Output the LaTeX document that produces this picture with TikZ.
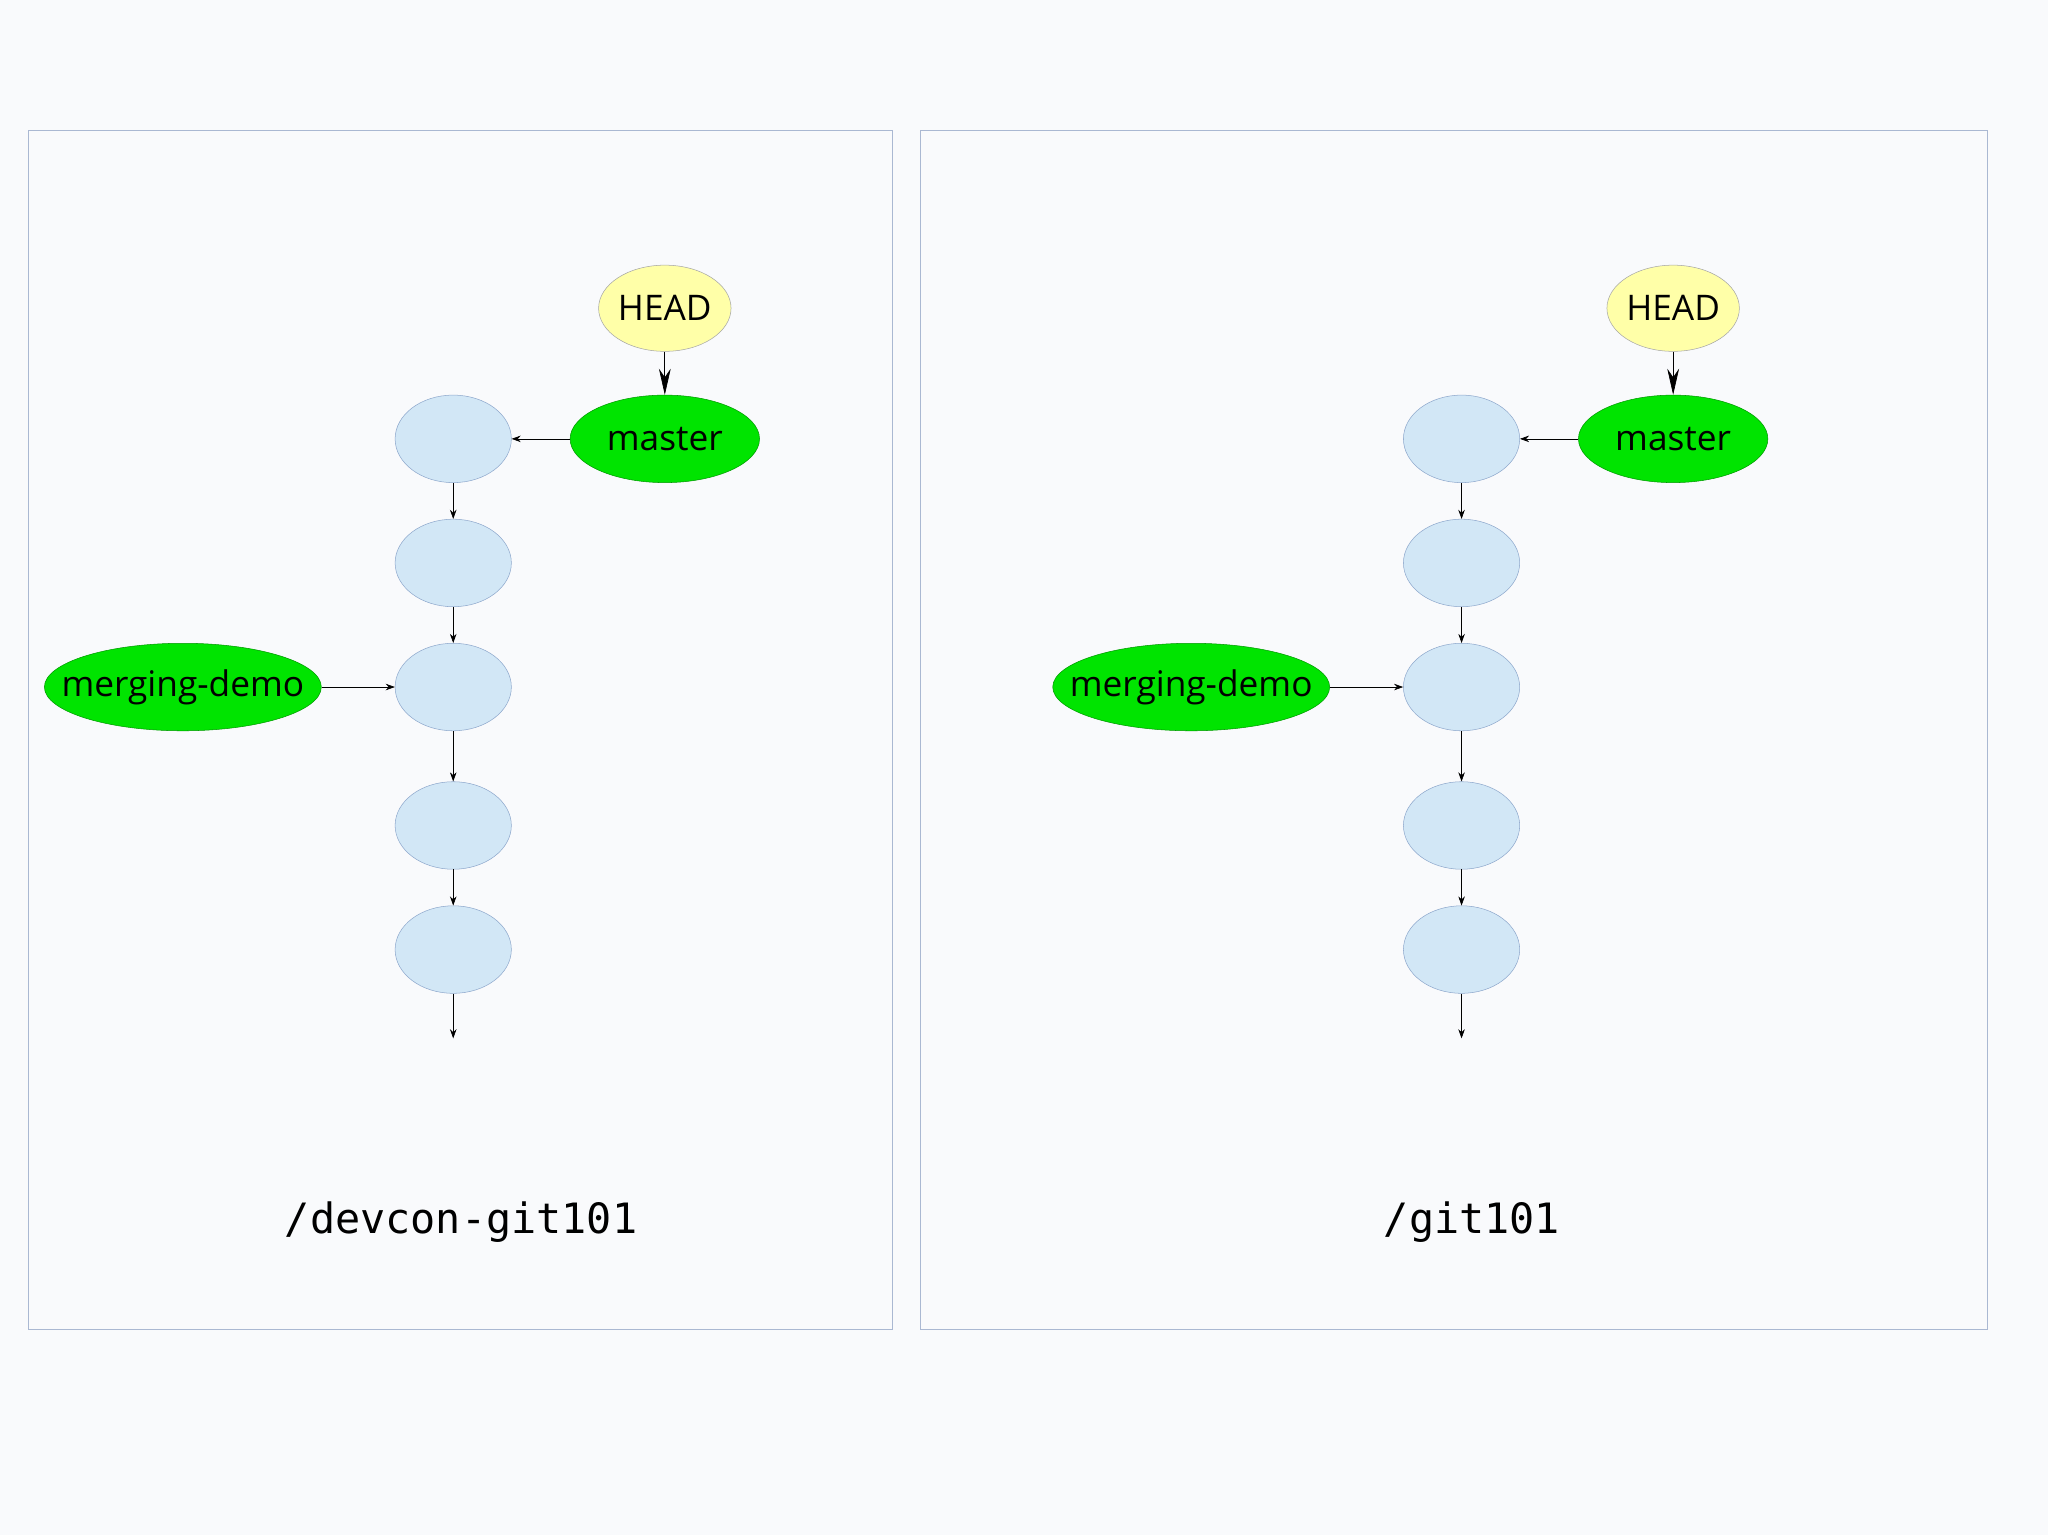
\documentclass[tikz,border=0pt]{standalone}
\usepackage{fontspec}
\setmainfont{Open Sans}
\newfontfamily\monof{DejaVu Sans Mono}
\usetikzlibrary{arrows.meta,shapes.geometric}
\definecolor{bg}{HTML}{F9FAFC}
\definecolor{pan}{HTML}{AAB8D2}
\definecolor{cfill}{HTML}{D2E7F6}
\definecolor{cline}{HTML}{8EA8CC}
\definecolor{grn}{HTML}{00E400}
\definecolor{yel}{HTML}{FFFFA8}
\tikzset{
 commit/.style={ellipse,draw=cline,fill=cfill,minimum width=89pt,minimum height=67pt,inner sep=0pt},
 branch/.style={ellipse,draw=green!60!black,fill=grn,minimum height=67pt,inner sep=0pt,font=\fontsize{27}{30}\selectfont},
 headn/.style={ellipse,draw=gray!70,fill=yel,minimum width=100pt,minimum height=66pt,inner sep=0pt,font=\fontsize{27}{30}\selectfont},
 conn/.style={-{Stealth[length=7pt,width=5pt]},black,line width=0.5pt},
 bigconn/.style={-{Stealth[length=20pt,width=9pt]},black,line width=0.5pt},
 panel/.style={draw=pan,line width=0.8pt},
 lbl/.style={font=\monof\fontsize{32}{36}\selectfont}
}
\begin{document}
\begin{tikzpicture}[x=1pt,y=-1pt]
\fill[bg] (0,0) rectangle (1568,1175);
\useasboundingbox (0,0) rectangle (1568,1175);
\draw[panel] (22,100) rectangle (683,1018);
\draw[panel] (705,100) rectangle (1522,1018);
\foreach \o/\p in {0/L,772/R}{
 \node[commit] (\p c1) at (347+\o,336) {};
 \node[commit] (\p c2) at (347+\o,431) {};
 \node[commit] (\p c3) at (347+\o,526) {};
 \node[commit] (\p c4) at (347+\o,632) {};
 \node[commit] (\p c5) at (347+\o,727) {};
 \coordinate (\p end) at (347+\o,795);
 \node[headn] (\p head) at (509+\o,236) {HEAD};
 \node[branch,minimum width=145pt,inner xsep=-8pt] (\p master) at (509+\o,336) {master};
 \node[branch,minimum width=212pt,inner xsep=-19pt] (\p merge) at (140+\o,526) {merging-demo};
 \draw[bigconn] (\p head) -- (\p master);
 \draw[conn] (\p master) -- (\p c1);
 \draw[conn] (\p merge) -- (\p c3);
 \draw[conn] (\p c1) -- (\p c2);
 \draw[conn] (\p c2) -- (\p c3);
 \draw[conn] (\p c3) -- (\p c4);
 \draw[conn] (\p c4) -- (\p c5);
 \draw[conn] (\p c5) -- (\p end);
}
\node[lbl] (Llbl) at (353,936) {/devcon-git101};
\node[lbl] (Rlbl) at (1127,936) {/git101};
\end{tikzpicture}
\end{document}
